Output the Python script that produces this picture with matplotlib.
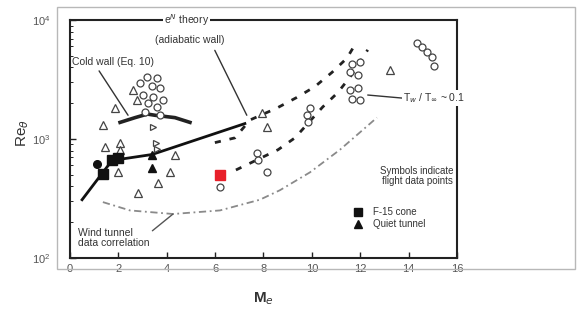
import matplotlib
matplotlib.use("Agg")
import matplotlib.pyplot as plt
from matplotlib.patches import Rectangle
import numpy as np

plt.rcParams['font.family'] = ['Liberation Sans', 'DejaVu Sans']

# ---- data (Mach number, Re_theta) ----
tri_M = [1.86, 1.36, 1.45, 2.07, 2.07, 4.34, 4.13, 3.64, 2.81, 1.98, 7.93, 8.14, 13.22, 2.60, 2.77]
tri_R = [10**3.26, 10**3.12, 10**2.93, 10**2.97, 10**2.91, 10**2.87, 10**2.72, 10**2.63,
         10**2.55, 10**2.72, 10**3.22, 10**3.10, 10**3.58, 10**3.41, 10**3.33]

rtri_M = [3.43, 3.60, 3.55]
rtri_R = [10**3.10, 10**2.92, 10**2.97]

circ_M = [3.18, 3.60, 2.89, 3.39, 3.72, 3.02, 3.43, 3.84, 3.22, 3.60, 3.10, 3.72,
          6.20, 7.73, 7.77, 8.14, 9.79, 9.83, 9.92,
          11.65, 11.98, 11.57, 11.90, 11.57, 11.90, 11.65, 11.98,
          14.34, 14.55, 14.75, 14.96, 15.04]
circ_R = [10**3.52, 10**3.51, 10**3.47, 10**3.45, 10**3.43, 10**3.37, 10**3.35, 10**3.33,
          10**3.30, 10**3.27, 10**3.23, 10**3.20,
          10**2.60, 10**2.88, 10**2.82, 10**2.72, 10**3.20, 10**3.14, 10**3.26,
          10**3.63, 10**3.65, 10**3.56, 10**3.54, 10**3.41, 10**3.43, 10**3.34, 10**3.33,
          10**3.81, 10**3.77, 10**3.73, 10**3.69, 10**3.61]

f15_M = [1.74, 1.98, 1.36]
f15_R = [10**2.82, 10**2.84, 10**2.71]
dot_M = [1.12]
dot_R = [10**2.79]
quiet_M = [3.39, 3.39]
quiet_R = [10**2.87, 10**2.76]
red_M = [6.2]
red_R = [10**2.70]

# e^N theory (adiabatic wall)
eN_M = [0.50, 1.36, 1.74, 3.39, 7.23]
eN_R = [10**2.49, 10**2.72, 10**2.82, 10**2.87, 10**3.13]
# cold wall (Eq. 10)
cold_M = [2.07, 2.69, 3.20, 3.51, 4.34, 4.96]
cold_R = [10**3.14, 10**3.18, 10**3.21, 10**3.20, 10**3.18, 10**3.14]
# T_w/T_inf ~ 0.1 dashed curves
up_M = [5.99, 6.82, 7.44, 8.55, 9.38, 10.12, 10.83, 11.45, 11.86]
up_R = [10**2.97, 10**3.01, 10**3.16, 10**3.26, 10**3.35, 10**3.44, 10**3.56, 10**3.68, 10**3.82]
lo_M = [6.86, 8.60, 9.30, 10.45, 11.07, 11.65, 12.31]
lo_R = [10**2.74, 10**2.91, 10**3.01, 10**3.27, 10**3.39, 10**3.54, 10**3.75]
# wind tunnel data correlation
wt_M = [1.36, 2.48, 4.26, 6.20, 7.85, 8.68, 9.92, 11.16, 12.69]
wt_R = [10**2.47, 10**2.40, 10**2.37, 10**2.40, 10**2.49, 10**2.57, 10**2.72, 10**2.91, 10**3.18]

txt = '#333333'
edge = '#444444'

fig = plt.figure(figsize=(5.77, 3.09), dpi=100)
ax = fig.add_axes([0.1213, 0.165, 0.6707, 0.770])

# outer grey frame of the scanned figure
fig.add_artist(Rectangle((0.0988, 0.129), 0.898, 0.848, transform=fig.transFigure,
                         fill=False, edgecolor='#b8b8b8', lw=1.0))

ax.plot(wt_M, wt_R, color='#8a8a8a', lw=1.3, ls=(0, (4, 2, 1, 2)))
ax.plot(up_M, up_R, color='#222222', lw=2, ls=(0, (2.2, 3.2)))
ax.plot(lo_M, lo_R, color='#222222', lw=2, ls=(0, (2.2, 3.2)))
ax.plot(eN_M, eN_R, color='#111111', lw=2)
ax.plot(cold_M, cold_R, color='#222222', lw=2.6)

ax.plot(tri_M, tri_R, ls='none', marker='^', ms=5.5, mfc='white', mec=edge, mew=0.9)
ax.plot(rtri_M, rtri_R, ls='none', marker='>', ms=5, mfc='white', mec=edge, mew=0.9)
ax.plot(circ_M, circ_R, ls='none', marker='o', ms=5, mfc='white', mec=edge, mew=0.9)
h_f15, = ax.plot(f15_M, f15_R, ls='none', marker='s', ms=6.5, color='#111111', label='F-15 cone')
ax.plot(dot_M, dot_R, ls='none', marker='o', ms=5.5, color='#111111')
h_q, = ax.plot(quiet_M, quiet_R, ls='none', marker='^', ms=6, color='#111111', label='Quiet tunnel')
ax.plot(red_M, red_R, ls='none', marker='s', ms=7, color='#e8202a')

ax.set_xlim(0, 16)
ax.set_yscale('log')
ax.set_ylim(1e2, 1e4)
ax.set_xticks(np.arange(0, 17, 2))
ax.tick_params(direction='in', length=4, width=1, colors='#222222', labelcolor='#555555',
               labelsize=8)
ax.tick_params(axis='y', which='minor', direction='in', length=2.5)
ax.tick_params(axis='y', pad=14)
ax.tick_params(axis='x', pad=4)
for s in ax.spines.values():
    s.set_linewidth(1.5)
    s.set_color('#222222')

fig.text(0.04, 0.57, r'Re$_\theta$', rotation=90, fontsize=11, color=txt, ha='center', va='center')
fig.text(0.456, 0.035, r'M$_e$', fontsize=11, color=txt, ha='center', va='center',
         fontweight='bold')

# annotations
bb = dict(facecolor='white', edgecolor='none', pad=0.5)
ax.text(0.302, 1.0, r'e$^{N}$ theory', transform=ax.transAxes, ha='center', va='center',
        fontsize=7.5, color=txt, bbox=bb)
ax.annotate('(adiabatic wall)', xy=(7.31, 10**3.20), xytext=(0.31, 0.916),
            textcoords='axes fraction', ha='center', va='center', fontsize=7.5, color=txt,
            arrowprops=dict(arrowstyle='-', color='#333333', lw=1.0, shrinkA=2, shrinkB=0,
                            relpos=(0.82, 0.0)))
ax.annotate('Cold wall (Eq. 10)', xy=(2.40, 10**3.20), xytext=(0.005, 0.824),
            textcoords='axes fraction', ha='left', va='center', fontsize=7.5, color=txt,
            arrowprops=dict(arrowstyle='-', color='#333333', lw=1.0, shrinkA=1, shrinkB=0,
                            relpos=(0.3, 0.0)))
ax.annotate('Wind tunnel\ndata correlation', xy=(4.26, 10**2.37), xytext=(0.021, 0.084),
            textcoords='axes fraction', ha='left', va='center', fontsize=7.5, color=txt,
            linespacing=1.0,
            arrowprops=dict(arrowstyle='-', color='#555555', lw=1.0, shrinkA=0, shrinkB=0,
                            relpos=(1.0, 0.75)))
ax.annotate(r'T$_w$ / T$_\infty$ ~ 0.1', xy=(12.31, 10**3.37), xytext=(0.86, 0.672),
            textcoords='axes fraction', ha='left', va='center', fontsize=7.5, color=txt,
            bbox=bb, annotation_clip=False,
            arrowprops=dict(arrowstyle='-', color='#333333', lw=1.0, shrinkA=0, shrinkB=0,
                            relpos=(0.0, 0.5)))
ax.text(0.99, 0.345, 'Symbols indicate\nflight data points', transform=ax.transAxes,
        ha='right', va='center', fontsize=7, color=txt, linespacing=1.1)
ax.legend(handles=[h_f15, h_q], loc='upper left', bbox_to_anchor=(0.72, 0.235),
          frameon=False, fontsize=7, handlelength=1.0, handletextpad=1.0,
          labelspacing=0.25, borderpad=0, markerscale=0.85, labelcolor=txt)

fig.savefig('out.png', dpi=100)
